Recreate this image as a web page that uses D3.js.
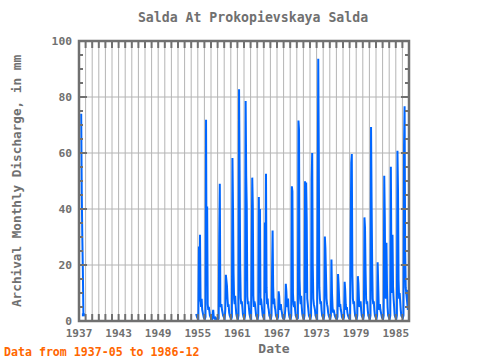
<!DOCTYPE html>
<html>
<head>
<meta charset="utf-8">
<script src="https://cdn.jsdelivr.net/npm/d3@7"></script>
<style>
  body { margin: 0; background: #fff; }
  svg { display: block; }
  text { font-family: "DejaVu Sans Mono", monospace; fill: #707070; font-weight: bold; }
</style>
</head>
<body>
<svg class="chart" width="480" height="360"></svg>
<script>
// monthly discharge (mm), first piece starts 1937-05
var start1937 = [1937, 5];
var flow1937 = [74, 45.7, 30.2, 18.3, 2.2];

// second piece starts 1954-10, one row per year (Jan..Dec)
var start1954 = [1954, 10];
var flow1954 = [
  2.5, 1.8, 1.2,
  1.0, 0.8, 26.6, 7.0, 30.8, 8.0, 5.0, 7.9, 4.0, 3.0, 2.0, 1.2,     // 1955
  1.0, 0.8, 1.5, 71.9, 14.0, 40.9, 6.0, 4.0, 5.0, 3.5, 2.0, 1.5,    // 1956
  1.0, 0.6, 0.5, 2.0, 4.0, 1.5, 1.0, 0.8, 1.2, 1.0, 0.6, 0.5,       // 1957
  0.5, 0.5, 1.0, 30.2, 49.0, 6.3, 5.0, 6.0, 4.0, 3.0, 2.0, 1.5,     // 1958
  1.2, 1.0, 4.0, 16.5, 14.5, 12.6, 8.0, 5.0, 6.0, 3.0, 2.0, 1.5,    // 1959
  1.0, 0.8, 1.5, 58.2, 40.3, 17.1, 8.0, 6.0, 9.0, 5.0, 2.5, 1.5,    // 1960
  1.0, 0.8, 2.0, 82.8, 53.7, 20.3, 8.2, 6.0, 7.0, 5.0, 2.5, 1.5,    // 1961
  1.0, 0.8, 2.0, 78.6, 51.9, 40.9, 8.8, 6.0, 7.0, 4.5, 2.5, 1.5,    // 1962
  1.0, 0.8, 26.4, 51.2, 41.2, 9.0, 5.0, 7.0, 6.0, 4.0, 2.0, 1.5,    // 1963
  1.0, 0.8, 2.0, 44.3, 10.0, 40.0, 5.7, 8.0, 6.0, 4.0, 2.0, 1.5,    // 1964
  1.0, 0.8, 35.2, 10.0, 52.6, 12.0, 6.0, 8.0, 5.0, 4.0, 2.0, 1.5,   // 1965
  1.0, 0.8, 2.0, 17.0, 32.3, 12.4, 6.0, 8.0, 5.0, 4.0, 2.0, 1.5,    // 1966
  1.0, 0.8, 1.5, 10.6, 8.8, 5.0, 4.0, 6.0, 4.0, 3.0, 1.5, 1.0,      // 1967
  0.8, 0.7, 1.5, 4.0, 13.3, 10.6, 6.0, 5.0, 8.0, 4.0, 2.0, 1.2,     // 1968
  1.0, 0.8, 2.0, 48.1, 46.3, 10.0, 6.0, 5.0, 7.0, 4.0, 2.0, 1.5,    // 1969
  1.0, 0.8, 1.0, 71.6, 68.5, 15.0, 8.0, 6.0, 9.0, 5.0, 2.5, 1.5,    // 1970
  1.0, 0.8, 2.0, 49.9, 10.0, 49.5, 36.2, 8.0, 6.0, 4.0, 2.0, 1.5,   // 1971
  1.0, 0.8, 2.0, 50.5, 60.0, 20.0, 8.0, 6.0, 5.0, 4.0, 2.0, 1.5,    // 1972
  1.0, 0.8, 44.5, 93.7, 59.4, 12.0, 8.0, 6.0, 7.0, 4.0, 2.0, 1.5,   // 1973
  1.0, 0.8, 2.0, 30.2, 26.0, 17.0, 8.0, 6.0, 5.0, 3.0, 2.0, 1.5,    // 1974
  1.0, 0.8, 2.0, 22.0, 10.0, 5.0, 3.0, 4.0, 3.0, 2.0, 1.5, 1.0,     // 1975
  0.8, 0.7, 1.5, 16.8, 13.0, 8.0, 5.0, 6.0, 4.0, 3.0, 1.5, 1.0,     // 1976
  0.8, 0.7, 1.5, 14.0, 11.0, 6.0, 4.0, 5.0, 3.0, 2.0, 1.5, 1.0,     // 1977
  1.0, 0.8, 31.4, 56.4, 59.6, 17.0, 8.0, 6.0, 7.0, 4.0, 2.0, 1.5,   // 1978
  1.0, 0.8, 2.0, 16.0, 13.4, 8.0, 5.0, 6.0, 7.0, 4.0, 2.0, 1.5,     // 1979
  1.0, 0.8, 2.0, 37.0, 33.4, 18.0, 8.0, 6.0, 7.0, 4.0, 2.0, 1.5,    // 1980
  1.0, 0.8, 2.0, 69.3, 42.5, 21.0, 8.0, 6.0, 7.0, 4.0, 2.0, 1.5,    // 1981
  1.0, 0.8, 2.0, 21.0, 13.0, 5.0, 4.0, 6.0, 4.0, 3.0, 2.0, 1.2,     // 1982
  1.0, 0.8, 2.0, 51.9, 36.8, 10.0, 8.0, 27.9, 12.0, 5.0, 2.0, 1.5,  // 1983
  1.0, 0.8, 2.0, 55.1, 20.0, 10.0, 30.8, 12.0, 8.0, 5.0, 2.0, 1.5,  // 1984
  1.0, 0.8, 2.0, 60.8, 46.9, 14.7, 8.0, 10.0, 7.0, 4.0, 2.0, 1.5,   // 1985
  1.5, 1.2, 2.0, 62.6, 76.7, 25.0, 12.0, 10.0, 8.0, 6.0, 4.0, 10.6  // 1986
];

var yTicks = [0, 20, 40, 60, 80, 100];
var xLabels = [1937, 1943, 1949, 1955, 1961, 1967, 1973, 1979, 1985];

var frameColor = "#707070";
var gridColor = "#b4b4b4";
var lineColor = "#0066ff";

// turn a start month and a list of values into dated points
function to_points(start, values) {
  return values.map(function(v, i) {
    var m = start[1] - 1 + i;
    return { t: start[0] + m / 12, v: v };
  });
}

var pieces = [to_points(start1937, flow1937), to_points(start1954, flow1954)];

var svg = d3.select(".chart");

var x = d3.scaleLinear().domain([1937, 1987]).range([79, 409]);
var y = d3.scaleLinear().domain([0, 100]).range([321, 41]);

// grid lines
var years = d3.range(1938, 1987);
svg.append("g").selectAll("line")
  .data(years)
  .enter().append("line")
    .attr("x1", function(d) { return x(d); })
    .attr("x2", function(d) { return x(d); })
    .attr("y1", y(100))
    .attr("y2", y(0))
    .attr("stroke", gridColor)
    .attr("stroke-width", 1);

svg.append("g").selectAll("line")
  .data([20, 40, 60, 80])
  .enter().append("line")
    .attr("x1", x(1937))
    .attr("x2", x(1987))
    .attr("y1", function(d) { return y(d); })
    .attr("y2", function(d) { return y(d); })
    .attr("stroke", gridColor)
    .attr("stroke-width", 1);

// the data line, broken where values are missing
var line = d3.line()
  .defined(function(d) { return d.v != null; })
  .x(function(d) { return x(d.t); })
  .y(function(d) { return y(d.v); });

pieces.forEach(function(p) {
  svg.append("path")
    .datum(p)
    .attr("fill", "none")
    .attr("stroke", lineColor)
    .attr("stroke-width", 2)
    .attr("stroke-linejoin", "miter")
    .attr("d", line);

  // dot on the last point of each piece
  var last = p[p.length - 1];
  svg.append("rect")
    .attr("x", x(last.t) - 1.5)
    .attr("y", y(last.v) - 1.5)
    .attr("width", 3)
    .attr("height", 3)
    .attr("fill", lineColor);
});

// ticks on all four sides, pointing in
var tickG = svg.append("g").attr("stroke", frameColor).attr("stroke-width", 2);
var allYears = d3.range(1938, 1987);
tickG.selectAll(".tt")
  .data(allYears)
  .enter().append("line")
    .attr("x1", function(d) { return x(d); })
    .attr("x2", function(d) { return x(d); })
    .attr("y1", y(100))
    .attr("y2", y(100) + 7);
tickG.selectAll(".tb")
  .data(allYears)
  .enter().append("line")
    .attr("x1", function(d) { return x(d); })
    .attr("x2", function(d) { return x(d); })
    .attr("y1", y(0))
    .attr("y2", y(0) - 7);

var yMinor = d3.range(5, 100, 5);
[x(1937), x(1987)].forEach(function(edge, k) {
  var dir = k == 0 ? 1 : -1;
  tickG.selectAll(".ty" + k)
    .data(yMinor)
    .enter().append("line")
      .attr("x1", edge)
      .attr("x2", function(d) { return edge + dir * (d % 20 == 0 ? 8 : 4); })
      .attr("y1", function(d) { return y(d); })
      .attr("y2", function(d) { return y(d); });
});

// frame
svg.append("rect")
  .attr("x", x(1937))
  .attr("y", y(100))
  .attr("width", x(1987) - x(1937))
  .attr("height", y(0) - y(100))
  .attr("fill", "none")
  .attr("stroke", frameColor)
  .attr("stroke-width", 2.5);

// tick labels
svg.append("g").selectAll("text")
  .data(yTicks)
  .enter().append("text")
    .attr("x", 72)
    .attr("y", function(d) { return y(d) + 4; })
    .attr("text-anchor", "end")
    .style("font-size", "11.3px")
    .text(function(d) { return d; });

svg.append("g").selectAll("text")
  .data(xLabels)
  .enter().append("text")
    .attr("x", function(d) { return x(d); })
    .attr("y", 337)
    .attr("text-anchor", "middle")
    .style("font-size", "11.1px")
    .text(function(d) { return d; });

// titles
svg.append("text")
  .attr("x", 253)
  .attr("y", 22)
  .attr("text-anchor", "middle")
  .style("font-size", "13.2px")
  .text("Salda At Prokopievskaya Salda");

svg.append("text")
  .attr("x", 274)
  .attr("y", 353)
  .attr("text-anchor", "middle")
  .style("font-size", "13px")
  .text("Date");

svg.append("text")
  .attr("transform", "translate(21,181) rotate(-90)")
  .attr("text-anchor", "middle")
  .style("font-size", "12.7px")
  .text("Archival Monthly Discharge, in mm");

svg.append("text")
  .attr("x", 4)
  .attr("y", 356)
  .style("font-size", "11.6px")
  .style("fill", "#ff6600")
  .text("Data from 1937-05 to 1986-12");
</script>
</body>
</html>
